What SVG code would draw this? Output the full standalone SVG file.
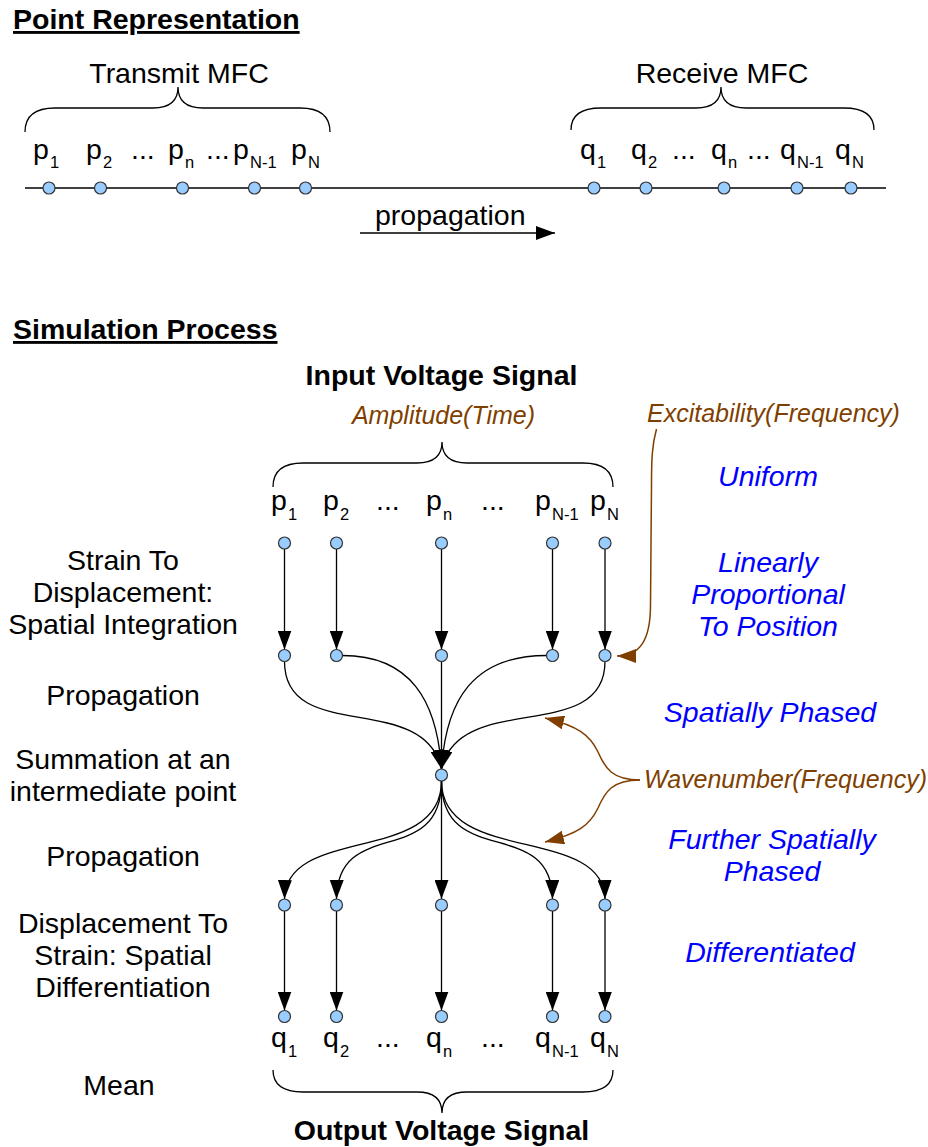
<svg xmlns="http://www.w3.org/2000/svg" width="928" height="1147" viewBox="0 0 928 1147">
<style>
text{font-family:"Liberation Sans",Arial,sans-serif;font-size:28.5px;fill:#000}
.b{font-weight:bold}
.u{text-decoration:underline}
.br{font-style:italic;font-size:25px;fill:#7f3f00}
.bl{font-style:italic;fill:#0000ff}
.sub{font-size:16.5px}
.mid{text-anchor:middle}
.node{fill:#99ccff;stroke:#333;stroke-width:1.2}
.edge{fill:none;stroke:#000;stroke-width:1.3}
.bedge{fill:none;stroke:#7f3f00;stroke-width:1.5}
.brace{fill:none;stroke:#000;stroke-width:1.3}
</style>
<defs>
<marker id="ah" markerUnits="userSpaceOnUse" markerWidth="19" markerHeight="14" refX="19" refY="7" orient="auto" viewBox="0 0 19 14"><path d="M0,0 L19,7 L0,14 z" fill="#000"/></marker>
<marker id="ahb" markerUnits="userSpaceOnUse" markerWidth="19" markerHeight="14" refX="19" refY="7" orient="auto" viewBox="0 0 19 14"><path d="M0,0 L19,7 L0,14 z" fill="#7f3f00"/></marker>
</defs>
<rect width="928" height="1147" fill="#fff"/>

<!-- Point Representation -->
<g id="point-representation">
<text class="b u" x="13" y="29">Point Representation</text>
<text class="mid" x="179" y="83">Transmit MFC</text>
<path class="brace" d="M25,132 Q25,108 55,108 L153,108 Q178,108 178,87 Q178,108 203,108 L300,108 Q330,108 330,132"/>
<text class="mid" x="722" y="83">Receive MFC</text>
<path class="brace" d="M571,130 Q571,108 601,108 L696,108 Q721,108 721,87 Q721,108 746,108 L844,108 Q874,108 874,130"/>
<line x1="25" y1="188" x2="886" y2="188" stroke="#000" stroke-width="1.3"/>
</g>
<g id="top-p-labels">
<text x="33" y="159">p<tspan class="sub" x="50" y="168">1</tspan></text>
<text x="86" y="159">p<tspan class="sub" x="103" y="168">2</tspan></text>
<text x="131" y="159">...</text>
<text x="168" y="159">p<tspan class="sub" x="185" y="168">n</tspan></text>
<text x="206" y="159">...</text>
<text x="233" y="159">p<tspan class="sub" x="250" y="168">N-1</tspan></text>
<text x="291" y="159">p<tspan class="sub" x="308" y="168">N</tspan></text>
</g>
<g id="top-q-labels">
<text x="580" y="159">q<tspan class="sub" x="597" y="168">1</tspan></text>
<text x="631" y="159">q<tspan class="sub" x="648" y="168">2</tspan></text>
<text x="672" y="159">...</text>
<text x="711" y="159">q<tspan class="sub" x="728" y="168">n</tspan></text>
<text x="747" y="159">...</text>
<text x="780" y="159">q<tspan class="sub" x="797" y="168">N-1</tspan></text>
<text x="835" y="159">q<tspan class="sub" x="852" y="168">N</tspan></text>
</g>
<g id="top-p-points">
<circle class="node" cx="49" cy="188" r="6"/>
<circle class="node" cx="100.5" cy="188" r="6"/>
<circle class="node" cx="182.5" cy="188" r="6"/>
<circle class="node" cx="254.5" cy="188" r="6"/>
<circle class="node" cx="305.5" cy="188" r="6"/>
</g>
<g id="top-q-points">
<circle class="node" cx="594" cy="188" r="6"/>
<circle class="node" cx="646" cy="188" r="6"/>
<circle class="node" cx="724" cy="188" r="6"/>
<circle class="node" cx="797" cy="188" r="6"/>
<circle class="node" cx="851" cy="188" r="6"/>
</g>
<g id="propagation-arrow">
<text x="375" y="225">propagation</text>
<line class="edge" x1="360" y1="233" x2="555" y2="233" marker-end="url(#ah)"/>
</g>

<!-- Simulation Process -->
<g id="simulation-title">
<text class="b u" x="13" y="339">Simulation Process</text>
<text class="b mid" x="441.5" y="385">Input Voltage Signal</text>
<text class="br mid" x="443.5" y="424">Amplitude(Time)</text>
<path class="brace" d="M273,487 Q273,463 303,463 L417,463 Q442,463 442,442 Q442,463 467,463 L583,463 Q613,463 613,487"/>
<text class="b mid" x="441.5" y="1140">Output Voltage Signal</text>
<path class="brace" d="M273,1070 Q273,1092 303,1092 L417,1092 Q442,1092 442,1113 Q442,1092 467,1092 L583,1092 Q613,1092 613,1070"/>
</g>

<g id="step-labels">
<text class="mid" x="123" y="570">Strain To</text>
<text class="mid" x="123" y="602">Displacement:</text>
<text class="mid" x="123" y="634">Spatial Integration</text>
<text class="mid" x="123" y="705">Propagation</text>
<text class="mid" x="123" y="769">Summation at an</text>
<text class="mid" x="123" y="801">intermediate point</text>
<text class="mid" x="123" y="866">Propagation</text>
<text class="mid" x="123" y="933">Displacement To</text>
<text class="mid" x="123" y="965">Strain: Spatial</text>
<text class="mid" x="123" y="997">Differentiation</text>
<text class="mid" x="119" y="1095">Mean</text>
</g>

<g id="effect-labels">
<text class="bl mid" x="768" y="486">Uniform</text>
<text class="bl mid" x="768" y="572">Linearly</text>
<text class="bl mid" x="768" y="604">Proportional</text>
<text class="bl mid" x="768" y="636">To Position</text>
<text class="bl mid" x="770" y="722">Spatially Phased</text>
<text class="bl mid" x="772" y="849">Further Spatially</text>
<text class="bl mid" x="772" y="881">Phased</text>
<text class="bl mid" x="770" y="962">Differentiated</text>
</g>

<g id="annotations">
<text class="br" x="647" y="422">Excitability(Frequency)</text>
<text class="br" x="644" y="788">Wavenumber(Frequency)</text>
</g>

<g id="input-labels">
<text x="271" y="510">p<tspan class="sub" x="288" y="520">1</tspan></text>
<text x="323" y="510">p<tspan class="sub" x="340" y="520">2</tspan></text>
<text x="376" y="510">...</text>
<text x="426" y="510">p<tspan class="sub" x="443" y="520">n</tspan></text>
<text x="481" y="510">...</text>
<text x="535" y="510">p<tspan class="sub" x="552" y="520">N-1</tspan></text>
<text x="590" y="510">p<tspan class="sub" x="607" y="520">N</tspan></text>
</g>
<g id="output-labels">
<text x="271" y="1047">q<tspan class="sub" x="288" y="1057">1</tspan></text>
<text x="323" y="1047">q<tspan class="sub" x="340" y="1057">2</tspan></text>
<text x="376" y="1047">...</text>
<text x="426" y="1047">q<tspan class="sub" x="443" y="1057">n</tspan></text>
<text x="481" y="1047">...</text>
<text x="535" y="1047">q<tspan class="sub" x="552" y="1057">N-1</tspan></text>
<text x="590" y="1047">q<tspan class="sub" x="607" y="1057">N</tspan></text>
</g>

<g id="connectors">
<line class="edge" x1="284.5" y1="549" x2="284.5" y2="649.5" marker-end="url(#ah)"/>
<line class="edge" x1="336.5" y1="549" x2="336.5" y2="649.5" marker-end="url(#ah)"/>
<line class="edge" x1="441.5" y1="549" x2="441.5" y2="649.5" marker-end="url(#ah)"/>
<line class="edge" x1="552.5" y1="549" x2="552.5" y2="649.5" marker-end="url(#ah)"/>
<line class="edge" x1="605" y1="549" x2="605" y2="649.5" marker-end="url(#ah)"/>
<path class="edge" d="M284.5,661.5 C284.5,745 424,690 441.5,769" marker-end="url(#ah)"/>
<path class="edge" d="M342.5,655.5 C410,655.5 437,700 441.5,769" marker-end="url(#ah)"/>
<path class="edge" d="M441.5,661.5 L441.5,769" marker-end="url(#ah)"/>
<path class="edge" d="M546.5,655.5 C473,655.5 446,700 441.5,769" marker-end="url(#ah)"/>
<path class="edge" d="M605,661.5 C605,745 459,690 441.5,769" marker-end="url(#ah)"/>
<path class="edge" d="M441.5,781 C441.5,865 286,825 284.5,899" marker-end="url(#ah)"/>
<path class="edge" d="M441.5,781 C441.5,870 337.5,815 336.5,899" marker-end="url(#ah)"/>
<path class="edge" d="M441.5,781 L441.5,899" marker-end="url(#ah)"/>
<path class="edge" d="M441.5,781 C441.5,870 551.5,815 552.5,899" marker-end="url(#ah)"/>
<path class="edge" d="M441.5,781 C441.5,865 603.5,825 605,899" marker-end="url(#ah)"/>
<line class="edge" x1="284.5" y1="911" x2="284.5" y2="1010.5" marker-end="url(#ah)"/>
<line class="edge" x1="336.5" y1="911" x2="336.5" y2="1010.5" marker-end="url(#ah)"/>
<line class="edge" x1="441.5" y1="911" x2="441.5" y2="1010.5" marker-end="url(#ah)"/>
<line class="edge" x1="552.5" y1="911" x2="552.5" y2="1010.5" marker-end="url(#ah)"/>
<line class="edge" x1="605" y1="911" x2="605" y2="1010.5" marker-end="url(#ah)"/>
<path class="bedge" d="M656.5,429 C652,445 651.5,460 651.5,485 L650.5,605 C650.5,640 640,656 617,656" marker-end="url(#ahb)"/>
<path class="bedge" d="M640,780 C612,780 605,768 598,752 C590,735 578,726 545,718" marker-end="url(#ahb)"/>
<path class="bedge" d="M640,780 C612,780 605,792 598,808 C590,825 578,834 545,842" marker-end="url(#ahb)"/>
</g>

<g id="input-points">
<circle class="node" cx="284.5" cy="543" r="6"/>
<circle class="node" cx="336.5" cy="543" r="6"/>
<circle class="node" cx="441.5" cy="543" r="6"/>
<circle class="node" cx="552.5" cy="543" r="6"/>
<circle class="node" cx="605" cy="543" r="6"/>
</g>
<g id="integrated-points">
<circle class="node" cx="284.5" cy="655.5" r="6"/>
<circle class="node" cx="336.5" cy="655.5" r="6"/>
<circle class="node" cx="441.5" cy="655.5" r="6"/>
<circle class="node" cx="552.5" cy="655.5" r="6"/>
<circle class="node" cx="605" cy="655.5" r="6"/>
</g>
<g id="sum-point">
<circle class="node" cx="441.5" cy="775" r="6"/>
</g>
<g id="received-points">
<circle class="node" cx="284.5" cy="905" r="6"/>
<circle class="node" cx="336.5" cy="905" r="6"/>
<circle class="node" cx="441.5" cy="905" r="6"/>
<circle class="node" cx="552.5" cy="905" r="6"/>
<circle class="node" cx="605" cy="905" r="6"/>
</g>
<g id="output-points">
<circle class="node" cx="284.5" cy="1016.5" r="6"/>
<circle class="node" cx="336.5" cy="1016.5" r="6"/>
<circle class="node" cx="441.5" cy="1016.5" r="6"/>
<circle class="node" cx="552.5" cy="1016.5" r="6"/>
<circle class="node" cx="605" cy="1016.5" r="6"/>
</g>
</svg>
